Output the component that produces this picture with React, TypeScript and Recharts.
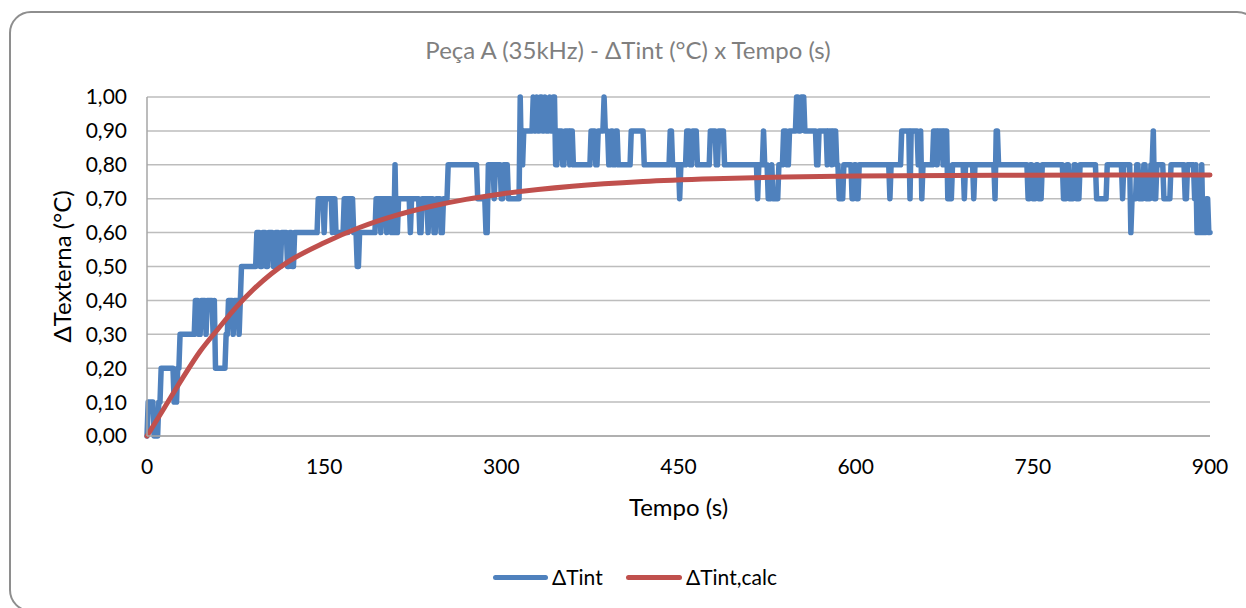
import React from "react";
import {
  CartesianGrid,
  Line,
  LineChart,
  XAxis,
  YAxis,
} from "recharts";

const measuredSteps: [number, number, number][] = [
  [0, 0, 0], [1, 5, 0.1], [6, 9, 0], [10, 11, 0.1], [12, 22, 0.2], [23, 25, 0.1],
  [26, 27, 0.2], [28, 40, 0.3], [41, 43, 0.4], [44, 45, 0.3], [46, 49, 0.4],
  [50, 50, 0.3], [51, 55, 0.4], [56, 56, 0.3], [57, 57, 0.4], [58, 66, 0.2],
  [67, 68, 0.3], [69, 72, 0.4], [73, 73, 0.3], [74, 77, 0.4], [78, 78, 0.3],
  [79, 79, 0.4], [80, 92, 0.5], [93, 95, 0.6], [96, 97, 0.5], [98, 100, 0.6],
  [101, 102, 0.5], [103, 106, 0.6], [107, 108, 0.5], [109, 111, 0.6],
  [112, 113, 0.5], [114, 118, 0.6], [119, 120, 0.5], [121, 122, 0.6],
  [123, 124, 0.5], [125, 144, 0.6],
  [145, 149, 0.7], [150, 150, 0.6], [151, 156, 0.7], [157, 157, 0.6],
  [158, 159, 0.7], [160, 166, 0.6], [167, 169, 0.7], [170, 170, 0.6],
  [171, 174, 0.7], [175, 177, 0.6], [178, 179, 0.5], [180, 193, 0.6],
  [194, 197, 0.7], [198, 198, 0.6], [199, 202, 0.7], [203, 203, 0.6],
  [204, 206, 0.7], [207, 209, 0.6], [210, 210, 0.8], [211, 212, 0.6],
  [213, 222, 0.7], [223, 223, 0.6], [224, 230, 0.7], [231, 232, 0.6],
  [233, 237, 0.7], [238, 238, 0.6], [239, 242, 0.7], [243, 244, 0.6],
  [245, 248, 0.7], [249, 250, 0.6], [251, 254, 0.7], [255, 279, 0.8],
  [280, 286, 0.7], [287, 288, 0.6],
  [289, 293, 0.8], [294, 294, 0.7], [295, 299, 0.8], [300, 301, 0.7],
  [302, 305, 0.8], [306, 315, 0.7], [316, 316, 1.0], [317, 318, 0.8],
  [319, 326, 0.9], [327, 327, 1.0], [328, 329, 0.9], [330, 330, 1.0],
  [331, 332, 0.9], [333, 334, 1.0], [335, 336, 0.9], [337, 337, 1.0],
  [338, 340, 0.9], [341, 341, 1.0], [342, 343, 0.9], [344, 345, 1.0],
  [346, 347, 0.8], [348, 351, 0.9], [352, 353, 0.8], [354, 357, 0.9],
  [358, 358, 0.8], [359, 360, 0.9], [361, 375, 0.8], [376, 379, 0.9],
  [380, 381, 0.8], [382, 386, 0.9], [387, 387, 1.0], [388, 390, 0.9],
  [391, 392, 0.8], [393, 394, 0.9], [395, 396, 0.8], [397, 398, 0.9],
  [399, 409, 0.8], [410, 420, 0.9],
  [421, 442, 0.8], [443, 444, 0.9], [445, 450, 0.8], [451, 451, 0.7],
  [452, 456, 0.8], [457, 459, 0.9], [460, 461, 0.8], [462, 465, 0.9],
  [466, 476, 0.8], [477, 481, 0.9], [482, 483, 0.8], [484, 488, 0.9],
  [489, 516, 0.8], [517, 517, 0.7], [518, 521, 0.8], [522, 522, 0.9],
  [523, 525, 0.8], [526, 528, 0.7], [529, 529, 0.8], [530, 534, 0.7],
  [535, 538, 0.8], [539, 541, 0.9], [542, 543, 0.8], [544, 549, 0.9],
  [550, 551, 1.0], [552, 553, 0.9], [554, 556, 1.0], [557, 566, 0.9],
  [567, 568, 0.8],
  [569, 575, 0.9], [576, 576, 0.8], [577, 579, 0.9], [580, 580, 0.8],
  [581, 583, 0.9], [584, 585, 0.8], [586, 589, 0.7], [590, 596, 0.8],
  [597, 598, 0.7], [599, 600, 0.8], [601, 602, 0.7], [603, 628, 0.8],
  [629, 629, 0.7], [630, 638, 0.8], [639, 645, 0.9], [646, 646, 0.7],
  [647, 652, 0.9], [653, 654, 0.8], [655, 655, 0.9], [656, 656, 0.7],
  [657, 665, 0.8], [666, 668, 0.9], [669, 669, 0.8], [670, 673, 0.9],
  [674, 674, 0.8], [675, 677, 0.9], [678, 681, 0.7], [682, 691, 0.8],
  [692, 692, 0.7], [693, 699, 0.8], [700, 700, 0.7], [701, 717, 0.8],
  [718, 718, 0.7], [719, 720, 0.9],
  [721, 745, 0.8], [746, 747, 0.7], [748, 749, 0.8], [750, 752, 0.7],
  [753, 754, 0.8], [755, 757, 0.7], [758, 775, 0.8], [776, 778, 0.7],
  [779, 780, 0.8], [781, 784, 0.7], [785, 786, 0.8], [787, 789, 0.7],
  [790, 803, 0.8], [804, 812, 0.7], [813, 825, 0.8], [826, 826, 0.7],
  [827, 832, 0.8], [833, 833, 0.6], [834, 837, 0.7], [838, 839, 0.8],
  [840, 843, 0.7], [844, 845, 0.8], [846, 849, 0.7], [850, 851, 0.8],
  [852, 852, 0.9], [853, 854, 0.7], [855, 860, 0.8], [861, 866, 0.7],
  [867, 878, 0.8], [879, 880, 0.7], [881, 886, 0.8], [887, 887, 0.7],
  [888, 888, 0.8], [889, 892, 0.6], [893, 893, 0.8], [894, 896, 0.6],
  [897, 898, 0.7], [899, 900, 0.6],
];

// ΔTint,calc (fitted curve) read at a few times
const calcTime = [0, 15, 30, 45, 60, 75, 90, 105, 120, 150, 180, 210, 240, 270, 300, 360, 420, 480, 540, 600, 720, 900];
const calcValue = [0, 0.085, 0.17, 0.25, 0.315, 0.378, 0.432, 0.478, 0.515, 0.57, 0.615, 0.65, 0.677, 0.698, 0.714, 0.737, 0.751, 0.759, 0.764, 0.767, 0.769, 0.77];

const xTicks = [0, 150, 300, 450, 600, 750, 900];
const yTicks = [0, 0.1, 0.2, 0.3, 0.4, 0.5, 0.6, 0.7, 0.8, 0.9, 1.0];

const measuredData = measuredSteps.flatMap(([a, b, v]) =>
  a === b ? [{ t: a, v }] : [{ t: a, v }, { t: b, v }]
);
const calcData = calcTime.map((t, i) => ({ t, v: calcValue[i] }));

const BLUE = "#4F81BD";
const RED = "#C0504D";
const FONT = "Lato, 'Open Sans', sans-serif";

const fmt = (v: number) => v.toFixed(2).replace(".", ",");

const App = () => {
  return (
    <div
      style={{
        position: "fixed",
        left: 0,
        top: 0,
        width: 1246,
        height: 608,
        overflow: "hidden",
        background: "#fff",
        fontFamily: FONT,
      }}
    >
      <div
        style={{
          position: "absolute",
          left: 9,
          top: 11,
          width: 1250,
          height: 601,
          border: "2px solid #8e8e8e",
          borderRadius: 22,
          boxSizing: "border-box",
        }}
      />
      <div
        style={{
          position: "absolute",
          top: 35,
          left: 0,
          width: 1256,
          textAlign: "center",
          color: "#7f7f7f",
          fontSize: 24,
          lineHeight: "30px",
        }}
      >
        Peça A (35kHz) - ΔTint (°C) x Tempo (s)
      </div>

      <div style={{ position: "absolute", left: 0, top: 0 }}>
        <LineChart
          width={1246}
          height={608}
          margin={{ top: 97, right: 36, bottom: 82, left: 0 }}
        >
          <CartesianGrid vertical={false} stroke="#bdbdbd" strokeWidth={1.5} />
          <XAxis
            type="number"
            dataKey="t"
            domain={[0, 900]}
            ticks={xTicks}
            height={90}
            tickLine={false}
            tickMargin={17}
            stroke="#a6a6a6"
            strokeWidth={1.5}
            tick={{ fill: "#000", fontSize: 21, fontFamily: FONT }}
            label={{
              value: "Tempo (s)",
              position: "insideBottom",
              offset: 10,
              style: { fill: "#000", fontSize: 24, fontFamily: FONT },
            }}
          />
          <YAxis
            type="number"
            domain={[0, 1]}
            ticks={yTicks}
            width={147}
            tickLine={false}
            tickMargin={14}
            tickFormatter={fmt}
            stroke="#a6a6a6"
            strokeWidth={1.5}
            tick={{ fill: "#000", fontSize: 21, fontFamily: FONT }}
            label={{
              value: "ΔTexterna (°C)",
              angle: -90,
              position: "insideLeft",
              offset: 62,
              style: { textAnchor: "middle", fill: "#000", fontSize: 24, fontFamily: FONT },
            }}
          />
          <Line
            data={measuredData}
            dataKey="v"
            type="linear"
            stroke={BLUE}
            strokeWidth={5.5}
            strokeLinejoin="round"
            strokeLinecap="round"
            dot={false}
            activeDot={false}
            isAnimationActive={false}
          />
          <Line
            data={calcData}
            dataKey="v"
            type="monotone"
            stroke={RED}
            strokeWidth={5}
            strokeLinecap="round"
            dot={false}
            activeDot={false}
            isAnimationActive={false}
          />
        </LineChart>
      </div>

      <div style={{ position: "absolute", left: 493, top: 575, width: 55, height: 5, borderRadius: 3, background: BLUE }} />
      <div style={{ position: "absolute", left: 552, top: 564, fontSize: 21, lineHeight: "26px", color: "#000" }}>ΔTint</div>
      <div style={{ position: "absolute", left: 626, top: 575, width: 56, height: 5, borderRadius: 3, background: RED }} />
      <div style={{ position: "absolute", left: 686, top: 564, fontSize: 21, lineHeight: "26px", color: "#000" }}>ΔTint,calc</div>
    </div>
  );
};

export default App;
